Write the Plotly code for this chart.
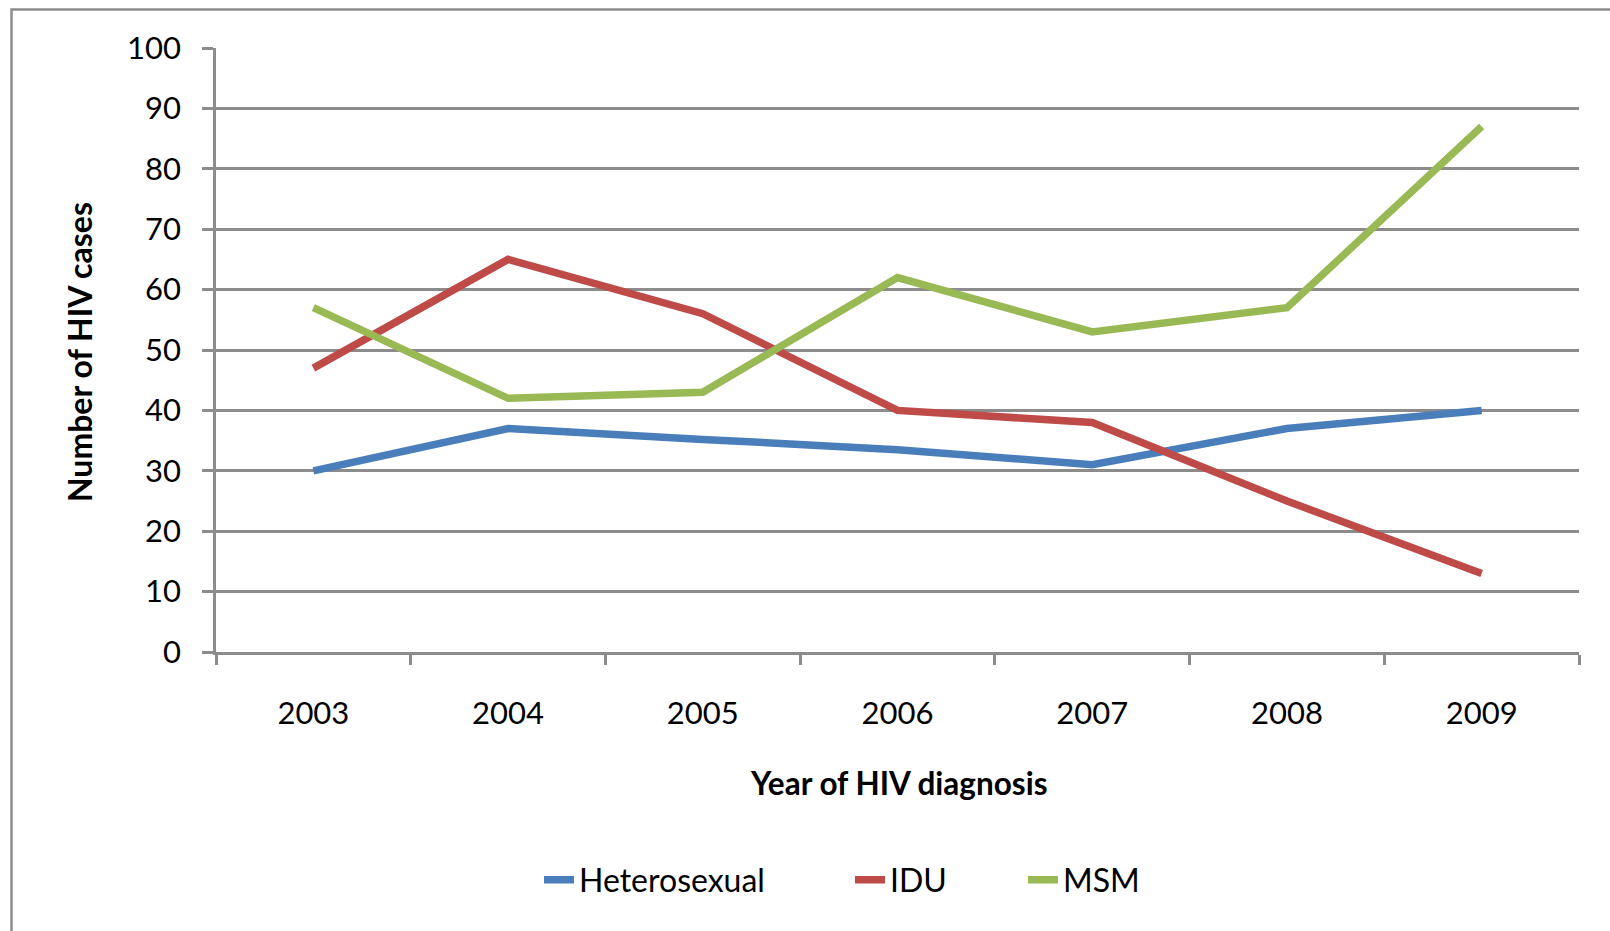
import plotly.graph_objects as go

years = ["2003", "2004", "2005", "2006", "2007", "2008", "2009"]
heterosexual = [30, 37, 35.2, 33.5, 31, 37, 40]
idu = [47, 65, 56, 40, 38, 25, 13]
msm = [57, 42, 43, 62, 53, 57, 87]
series_names = ["Heterosexual", "IDU", "MSM"]
series_colors = ["#4A7EBB", "#BE4B48", "#98B954"]
y_ticks = [0, 10, 20, 30, 40, 50, 60, 70, 80, 90, 100]

W, H = 1610, 931
L, R, T, B = 216, 1579, 48, 652
FONT = "Lato, Carlito, Calibri, sans-serif"
GRID = "#8C8C8C"

pw, ph = R - L, B - T
def px(x):
    return (x - L) / pw
def py(y):
    return (B - y) / ph

legend_ids = ["legend", "legend2", "legend3"]
legend_text_x = [580, 891, 1064]

fig = go.Figure()
for name, vals, col, lid in zip(series_names, [heterosexual, idu, msm], series_colors, legend_ids):
    fig.add_trace(go.Scatter(x=years, y=vals, mode="lines", name=name, legend=lid,
                             line=dict(color=col, width=7.5)))

legend_layout = {}
for lid, tx in zip(legend_ids, legend_text_x):
    legend_layout[lid] = dict(orientation="h", x=px(tx - 41), xanchor="left",
                              y=py(880), yanchor="middle", font=dict(size=32),
                              bgcolor="rgba(0,0,0,0)")

fig.update_layout(
    width=W, height=H,
    margin=dict(l=L, r=W - R, t=T, b=H - B, pad=0),
    paper_bgcolor="white", plot_bgcolor="white",
    font=dict(family=FONT, size=30, color="black"),
    showlegend=True,
    xaxis=dict(type="category", range=[-0.5, 6.5], showgrid=False, showline=True,
               linecolor=GRID, linewidth=2.5, ticks="outside", tickson="boundaries",
               ticklen=10, tickwidth=2.5, tickcolor=GRID, ticklabelstandoff=32,
               tickfont=dict(size=31), zeroline=False, fixedrange=True),
    yaxis=dict(range=[0, 100], tickvals=y_ticks, showgrid=True, gridcolor=GRID, gridwidth=2.5,
               showline=True, linecolor=GRID, linewidth=2.5, ticks="outside", ticklen=11,
               tickwidth=2.5, tickcolor=GRID, ticklabelstandoff=15, tickfont=dict(size=31),
               zeroline=False, fixedrange=True),
    annotations=[
        dict(text="<b>Year of HIV diagnosis</b>", xref="paper", yref="paper",
             x=px(898), y=py(783), xanchor="center", yanchor="middle", showarrow=False,
             font=dict(size=31.5, family=FONT)),
        dict(text="<b>Number of HIV cases</b>", xref="paper", yref="paper",
             x=px(79), y=py(352), xanchor="center", yanchor="middle", showarrow=False,
             textangle=-90, font=dict(size=32, family=FONT)),
    ],
    shapes=[dict(type="rect", xref="paper", yref="paper",
                 x0=px(11.5), x1=px(1640), y0=py(960), y1=py(9.5),
                 line=dict(color="#8C8C8C", width=2.5), fillcolor="rgba(0,0,0,0)", layer="below")],
    **legend_layout,
)

fig.write_html("out.html", config={"displayModeBar": False})

with open("out.html", "r", encoding="utf-8") as f:
    html = f.read()
html = html.replace("<head>", "<head><style>html,body{margin:0;padding:0;overflow:hidden;}</style>", 1)
with open("out.html", "w", encoding="utf-8") as f:
    f.write(html)
